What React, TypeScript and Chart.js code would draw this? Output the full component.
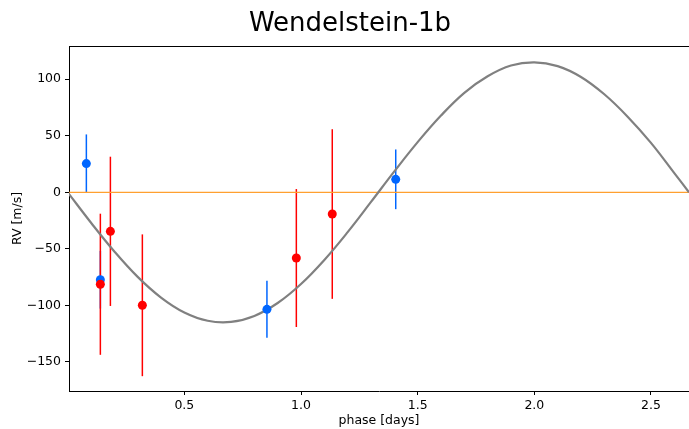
import React, { useEffect, useRef } from "react";
import { Chart, registerables } from "chart.js";

Chart.register(...registerables);

// Model curve samples (phase in days, RV in m/s)
const phaseGrid = [0, 0.1, 0.2, 0.3, 0.4, 0.5, 0.6, 0.7, 0.8, 0.9, 1.0, 1.1, 1.2, 1.3, 1.4, 1.5, 1.6, 1.7, 1.8, 1.9, 2.0, 2.1, 2.2, 2.3, 2.4, 2.5, 2.6, 2.663];
const modelRV = [0, -26.9, -52.3, -74.8, -93.1, -106.3, -113.6, -114.6, -109.3, -97.9, -81.1, -59.8, -35.2, -8.5, 18.5, 44.4, 67.9, 88.0, 102.6, 112.1, 115.0, 111.6, 102.0, 86.7, 66.9, 43.7, 17.0, 0];

// Blue measurements
const blueX = [0.08, 0.14, 0.854, 1.406];
const blueY = [25.4, -77.3, -103.5, 11.5];
const blueErr = [25.8, 25.5, 25.2, 26.4];

// Red measurements
const redX = [0.14, 0.183, 0.32, 0.98, 1.134];
const redY = [-81.3, -34.5, -99.9, -58.1, -19.2];
const redErr = [62.4, 66.0, 62.7, 61.0, 75.0];

const xTicks = [0.5, 1.0, 1.5, 2.0, 2.5];
const yTicks = [-150, -100, -50, 0, 50, 100];

const X_MIN = 0.0056;
const X_MAX = 2.663;
const Y_MIN = -175.7;
const Y_MAX = 129.4;

const FONT = "'DejaVu Sans', sans-serif";
const BLUE = "#0066ff";
const RED = "#ff0000";

export default function App() {
  const ref = useRef<HTMLCanvasElement | null>(null);

  useEffect(() => {
    document.body.style.margin = "0";
    const canvas = ref.current;
    if (!canvas) return;

    const errorBars = {
      id: "errorBars",
      beforeDatasetsDraw(chart: any) {
        const ctx = chart.ctx;
        const xs = chart.scales.x;
        const ys = chart.scales.y;
        ctx.save();
        ctx.beginPath();
        const a = chart.chartArea;
        ctx.rect(a.left, a.top, a.right - a.left, a.bottom - a.top);
        ctx.clip();
        ctx.lineWidth = 1.5;
        const draw = (X: number[], Y: number[], E: number[], color: string) => {
          ctx.strokeStyle = color;
          for (let i = 0; i < X.length; i++) {
            const px = xs.getPixelForValue(X[i]);
            ctx.beginPath();
            ctx.moveTo(px, ys.getPixelForValue(Y[i] + E[i]));
            ctx.lineTo(px, ys.getPixelForValue(Y[i] - E[i]));
            ctx.stroke();
          }
        };
        draw(blueX, blueY, blueErr, BLUE);
        draw(redX, redY, redErr, RED);
        ctx.restore();
      },
    };

    const frameAndTitles = {
      id: "frameAndTitles",
      afterDraw(chart: any) {
        const ctx = chart.ctx;
        const a = chart.chartArea;
        ctx.save();
        ctx.strokeStyle = "#000000";
        ctx.lineWidth = 1;
        ctx.beginPath();
        ctx.moveTo(a.left, a.top + 0.5);
        ctx.lineTo(a.right, a.top + 0.5);
        ctx.stroke();
        ctx.fillStyle = "#000000";
        ctx.textAlign = "center";
        ctx.textBaseline = "middle";
        ctx.font = `26px ${FONT}`;
        ctx.fillText("Wendelstein-1b", 350, 24);
        ctx.font = `12.5px ${FONT}`;
        ctx.fillText("phase [days]", (a.left + a.right) / 2, 421);
        ctx.translate(18, (a.top + a.bottom) / 2);
        ctx.rotate(-Math.PI / 2);
        ctx.fillText("RV [m/s]", 0, 0);
        ctx.restore();
      },
    };

    const chart = new Chart(canvas, {
      type: "scatter",
      data: {
        datasets: [
          {
            label: "red",
            data: redX.map((x, i) => ({ x, y: redY[i] })),
            backgroundColor: RED,
            borderColor: RED,
            pointRadius: 4.5,
            borderWidth: 0,
            order: 0,
          },
          {
            label: "blue",
            data: blueX.map((x, i) => ({ x, y: blueY[i] })),
            backgroundColor: BLUE,
            borderColor: BLUE,
            pointRadius: 4.5,
            borderWidth: 0,
            order: 1,
          },
          {
            label: "model",
            data: phaseGrid.map((x, i) => ({ x, y: modelRV[i] })),
            showLine: true,
            borderColor: "#808080",
            borderWidth: 2.2,
            pointRadius: 0,
            tension: 0.4,
            order: 2,
          },
          {
            label: "zero",
            data: [
              { x: 0, y: 0 },
              { x: X_MAX, y: 0 },
            ],
            showLine: true,
            borderColor: "#ffa030",
            borderWidth: 1.2,
            pointRadius: 0,
            order: 3,
          },
        ],
      },
      options: {
        animation: false,
        responsive: false,
        devicePixelRatio: 1,
        layout: { autoPadding: false, padding: { top: 46, left: 0, right: 0, bottom: 0 } },
        plugins: {
          legend: { display: false },
          title: { display: false },
          tooltip: { enabled: false },
        },
        scales: {
          x: {
            type: "linear",
            min: X_MIN,
            max: X_MAX,
            afterBuildTicks: (s: any) => {
              s.ticks = xTicks.map((v) => ({ value: v }));
            },
            afterFit: (s: any) => {
              s.height = 38;
            },
            grid: {
              drawOnChartArea: false,
              drawTicks: true,
              tickLength: 4,
              tickColor: "#000000",
            },
            border: { color: "#000000", width: 1 },
            ticks: {
              color: "#000000",
              font: { family: FONT, size: 12.5 },
              padding: 3,
              maxRotation: 0,
              callback: (v: any) => Number(v).toFixed(1),
            },
          },
          y: {
            type: "linear",
            min: Y_MIN,
            max: Y_MAX,
            afterBuildTicks: (s: any) => {
              s.ticks = yTicks.map((v) => ({ value: v }));
            },
            afterFit: (s: any) => {
              s.width = 69;
            },
            grid: {
              drawOnChartArea: false,
              drawTicks: true,
              tickLength: 4,
              tickColor: "#000000",
            },
            border: { color: "#000000", width: 1 },
            ticks: {
              color: "#000000",
              font: { family: FONT, size: 12.5 },
              padding: 4,
              callback: (v: any) => (Number(v) < 0 ? "\u2212" + Math.abs(Number(v)) : String(v)),
            },
          },
        },
      },
      plugins: [errorBars, frameAndTitles],
    } as any);

    return () => chart.destroy();
  }, []);

  return (
    <div style={{ position: "absolute", left: 0, top: 0, width: 689, height: 429, background: "#ffffff" }}>
      <canvas ref={ref} width={689} height={429} style={{ display: "block", width: 689, height: 429 }} />
    </div>
  );
}
